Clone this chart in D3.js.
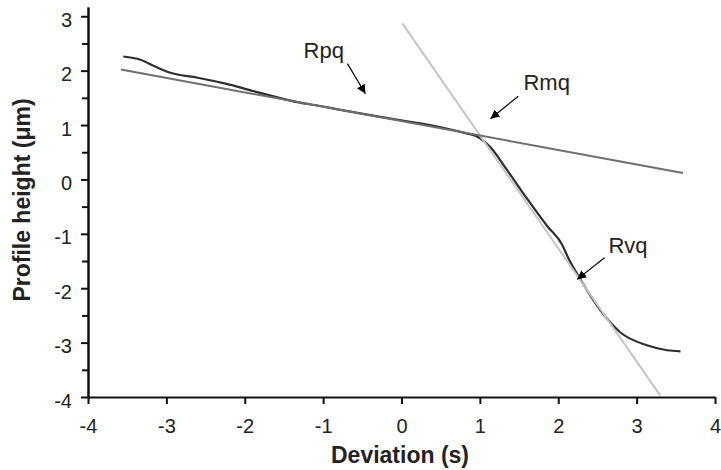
<!DOCTYPE html>
<html>
<head>
<meta charset="utf-8">
<script src="https://cdn.jsdelivr.net/npm/d3@7"></script>
<style>
  body { margin: 0; background: #fff; }
  svg { display: block; font-family: 'Liberation Sans', Arial, sans-serif; }
</style>
</head>
<body>
<div class="chart"></div>
<script>
// measured profile (Deviation in s, height in um)
const profile = [
  [-3.55, 2.26], [-3.33, 2.2], [-3.15, 2.08], [-2.97, 1.97], [-2.6, 1.87],
  [-2.27, 1.77], [-1.88, 1.62], [-1.67, 1.54], [-1.33, 1.42], [-1.0, 1.34],
  [-0.78, 1.28], [-0.27, 1.15], [0.07, 1.07], [0.5, 0.96], [0.79, 0.86],
  [0.965, 0.79], [1.135, 0.59], [1.35, 0.165], [1.6, -0.35], [1.86, -0.86],
  [2.05, -1.2], [2.12, -1.42], [2.28, -1.83], [2.54, -2.41], [2.79, -2.81],
  [3.13, -3.05], [3.39, -3.14], [3.56, -3.16],
];

// fitted lines, end points
const rpqLine = [[-3.58, 2.02], [3.59, 0.12]];
const rvqLine = [[0.01, 2.87], [3.3, -3.97]];

// labels with arrows: text pos, arrow start, arrow tip
const notes = [
  { text: 'Rpq', x: -1.25, y: 2.24, from: [-0.69, 2.13], to: [-0.46, 1.575] },
  { text: 'Rmq', x: 1.556, y: 1.636, from: [1.49, 1.53], to: [1.135, 1.116] },
  { text: 'Rvq', x: 2.64, y: -1.36, from: [2.59, -1.44], to: [2.241, -1.838] },
];

const xTicks = [-4, -3, -2, -1, 0, 1, 2, 3, 4];
const yTicks = [-4, -3, -2, -1, 0, 1, 2, 3];
const yMinor = [-3.5, -2.5, -1.5, -0.5, 0.5, 1.5, 2.5];

const width = 721;
const height = 470;

const svg = d3
  .select('.chart')
  .append('svg')
  .attr('width', width)
  .attr('height', height);

const x = d3.scaleLinear().domain([-4, 4]).range([88, 715]);
const y = d3.scaleLinear().domain([-4, 3.17]).range([397, 7]);

// plain hyphen for negatives, like the original
const fmt = (d) => String(d);

const xAxis = d3
  .axisBottom(x)
  .tickValues(xTicks)
  .tickFormat(fmt)
  .tickSize(7)
  .tickSizeOuter(0)
  .tickPadding(15);
const yAxis = d3
  .axisLeft(y)
  .tickValues(yTicks)
  .tickFormat(fmt)
  .tickSize(7)
  .tickSizeOuter(0)
  .tickPadding(9);
const yMinorAxis = d3.axisLeft(y).tickValues(yMinor).tickSize(6).tickSizeOuter(0).tickFormat('');

const styleAxis = (g) => {
  g.selectAll('path, line').attr('stroke', '#111').attr('stroke-width', 2);
  g.selectAll('text')
    .attr('fill', '#222')
    .style('font-size', '20px')
    .style('font-family', "'Liberation Sans', Arial, sans-serif");
};

svg.append('g').attr('transform', 'translate(0, 397)').call(xAxis).call(styleAxis);
svg.append('g').attr('transform', 'translate(88, 0)').call(yMinorAxis).call(styleAxis);
svg
  .append('g')
  .attr('transform', 'translate(88, 0)')
  .call(yAxis)
  .call(styleAxis)
  .selectAll('text')
  .attr('dy', '0.5em');

const line = d3
  .line()
  .x((d) => x(d[0]))
  .y((d) => y(d[1]));

svg
  .append('path')
  .datum(profile)
  .attr('d', line.curve(d3.curveMonotoneX))
  .attr('fill', 'none')
  .attr('stroke', '#2e2e2e')
  .attr('stroke-width', 2.2);

line.curve(d3.curveLinear);

svg
  .append('path')
  .datum(rvqLine)
  .attr('d', line)
  .attr('fill', 'none')
  .attr('stroke', '#c4c4c4')
  .attr('stroke-width', 2);

svg
  .append('path')
  .datum(rpqLine)
  .attr('d', line)
  .attr('fill', 'none')
  .attr('stroke', '#6e6e6e')
  .attr('stroke-width', 2);

svg
  .append('defs')
  .append('marker')
  .attr('id', 'arrow')
  .attr('viewBox', '0 0 10 10')
  .attr('refX', 10)
  .attr('refY', 5)
  .attr('markerWidth', 9)
  .attr('markerHeight', 9)
  .attr('markerUnits', 'userSpaceOnUse')
  .attr('orient', 'auto')
  .append('path')
  .attr('d', 'M0,0 L10,5 L0,10 Z')
  .attr('fill', '#000');

svg
  .selectAll('.note-arrow')
  .data(notes)
  .enter()
  .append('line')
  .attr('class', 'note-arrow')
  .attr('x1', (d) => x(d.from[0]))
  .attr('y1', (d) => y(d.from[1]))
  .attr('x2', (d) => x(d.to[0]))
  .attr('y2', (d) => y(d.to[1]))
  .attr('stroke', '#000')
  .attr('stroke-width', 1.2)
  .attr('marker-end', 'url(#arrow)');

svg
  .selectAll('.note-text')
  .data(notes)
  .enter()
  .append('text')
  .attr('class', 'note-text')
  .attr('x', (d) => x(d.x))
  .attr('y', (d) => y(d.y))
  .attr('fill', '#222')
  .style('font-size', '22px')
  .text((d) => d.text);

svg
  .append('text')
  .attr('x', 400)
  .attr('y', 463)
  .attr('text-anchor', 'middle')
  .attr('fill', '#222')
  .style('font-size', '23px')
  .style('font-weight', 'bold')
  .text('Deviation (s)');

svg
  .append('text')
  .attr('transform', 'translate(30, 200) rotate(-90)')
  .attr('text-anchor', 'middle')
  .attr('fill', '#222')
  .style('font-size', '23px')
  .style('font-weight', 'bold')
  .text('Profile height (μm)');
</script>
</body>
</html>
